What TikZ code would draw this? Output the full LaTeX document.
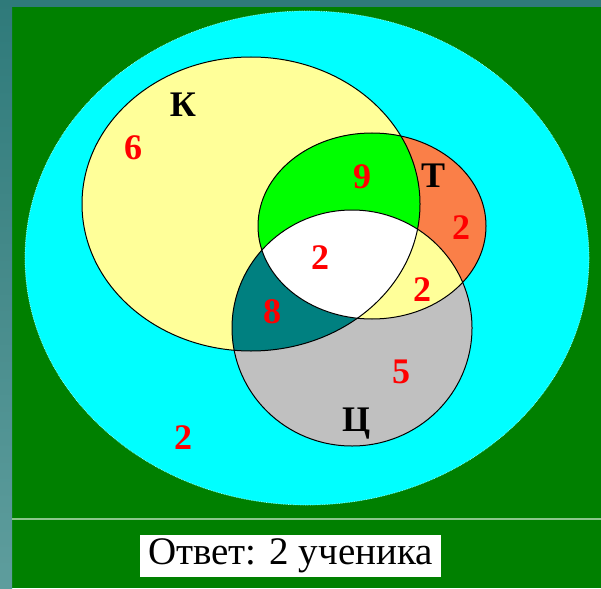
\documentclass[tikz,border=0pt]{standalone}
\usepackage{fontspec}
\setmainfont{Liberation Serif}
\definecolor{bggreen}{HTML}{008000}
\definecolor{frameteal}{HTML}{2F7A7A}
\definecolor{frametealpale}{HTML}{5E9D9D}
\definecolor{universe}{HTML}{00FFFF}
\definecolor{setyellow}{HTML}{FFFF99}
\definecolor{setlime}{HTML}{00FF00}
\definecolor{setorange}{HTML}{FA7F48}
\definecolor{setteal}{HTML}{008080}
\definecolor{setgray}{HTML}{C0C0C0}
\definecolor{numred}{HTML}{FF0000}
\usetikzlibrary{positioning}

% the three sets, in picture coordinates
\newcommand{\ellK}{(251,204) ellipse [x radius=169pt, y radius=147pt]}
\newcommand{\ellT}{(372,226) ellipse [x radius=114pt, y radius=93pt]}
\newcommand{\ellC}{(352,328) ellipse [x radius=120pt, y radius=118pt]}

\begin{document}
\begin{tikzpicture}[
      x=1pt, y=-1pt,
      num/.style={text=numred, font=\fontsize{36}{36}\selectfont\bfseries, inner sep=0pt},
      setname/.style={text=black, font=\fontsize{36}{36}\selectfont\bfseries, inner sep=0pt},
      answer/.style={rectangle, fill=white, minimum width=301pt, minimum height=42pt,
                     inner sep=0pt, font=\fontsize{39}{39}\selectfont},
    ]
    \useasboundingbox (0,0) rectangle (601,588);
    % background and frame
    \fill[bggreen] (0,0) rectangle (601,588);
    \fill[frameteal] (0,0) rectangle (601,7);
    \shade[top color=frameteal, bottom color=frametealpale] (0,0) rectangle (12,588);
    \draw[white!55!bggreen, line width=1.2pt] (12,519) -- (601,519);

    % universe
    \fill[universe] (307,258) ellipse [x radius=282pt, y radius=247pt];
    \draw[white!60!universe, line width=0.7pt, densely dotted] (307,258) ellipse [x radius=282pt, y radius=247pt];

    % single sets
    \fill[setyellow] \ellK;
    \fill[setorange] \ellT;
    \fill[setgray] \ellC;
    % pairwise overlaps
    \begin{scope}
      \clip \ellK;
      \fill[setlime] \ellT;
      \fill[setteal] \ellC;
    \end{scope}
    \begin{scope}
      \clip \ellT;
      \fill[setyellow] \ellC;
    \end{scope}
    \begin{scope}
      \clip \ellK;
      \clip \ellT;
      \fill[white] \ellC;
    \end{scope}
    % outlines
    \draw[black, line width=1pt] \ellK;
    \draw[black, line width=1pt] \ellT;
    \draw[black, line width=1pt] \ellC;

    % set names
    \node[setname] (nameK) at (183,105) {К};
    \node[setname] (nameT) at (433,176) {Т};
    \node[setname] (nameC) at (356,424) {Ц};

    % counts
    \node[num] (onlyK) at (133,148) {6};
    \node[num] (KT) at (362,177) {9};
    \node[num] (onlyT) at (461,228) {2};
    \node[num] (KTC) at (320,258) {2};
    \node[num] (TC) at (422,290) {2};
    \node[num] (KC) at (272,312) {8};
    \node[num] (onlyC) at (401,372) {5};
    \node[num] (none) at (183,438) {2};

    \node[answer] (result) at (290.5,556) {Ответ: 2 ученика};
  \end{tikzpicture}
\end{document}
